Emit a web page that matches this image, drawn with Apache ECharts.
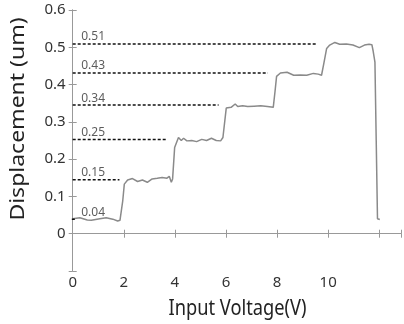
<!DOCTYPE html>
<html>
<head>
<meta charset="utf-8">
<script src="https://cdn.jsdelivr.net/npm/echarts@6/dist/echarts.min.js"></script>
<style>
  html, body { margin: 0; padding: 0; background: #fff; }
  #main { width: 404px; height: 324px; }
</style>
</head>
<body>
<div id="main"></div>
<script>
// measured curve (input voltage -> displacement)
const voltage = [0, 0.28, 0.57, 0.73, 1.06, 1.31, 1.57, 1.76, 1.85, 1.96, 2.02, 2.15, 2.34, 2.54, 2.73, 2.92, 3.11, 3.31, 3.50, 3.69, 3.78, 3.86, 3.91, 3.99, 4.14, 4.25, 4.34, 4.47, 4.66, 4.85, 5.05, 5.24, 5.43, 5.62, 5.79, 5.88, 6.01, 6.07, 6.20, 6.36, 6.46, 6.65, 6.85, 7.10, 7.36, 7.62, 7.85, 7.92, 7.98, 8.13, 8.39, 8.65, 8.91, 9.16, 9.42, 9.61, 9.74, 9.83, 9.94, 10.06, 10.26, 10.45, 10.71, 10.97, 11.22, 11.42, 11.60, 11.71, 11.76, 11.83, 11.88, 11.93, 12.02]
const displacement = [0.040, 0.043, 0.037, 0.036, 0.040, 0.043, 0.039, 0.034, 0.036, 0.089, 0.133, 0.144, 0.148, 0.140, 0.144, 0.138, 0.147, 0.149, 0.151, 0.149, 0.154, 0.138, 0.147, 0.231, 0.258, 0.250, 0.256, 0.249, 0.250, 0.247, 0.253, 0.250, 0.256, 0.250, 0.249, 0.258, 0.337, 0.342, 0.339, 0.348, 0.341, 0.343, 0.341, 0.342, 0.343, 0.341, 0.339, 0.382, 0.422, 0.431, 0.433, 0.425, 0.426, 0.425, 0.430, 0.428, 0.425, 0.457, 0.497, 0.506, 0.513, 0.508, 0.509, 0.506, 0.499, 0.506, 0.508, 0.507, 0.490, 0.460, 0.250, 0.040, 0.038]

// dashed step levels
const levelLabels = ['0.04', '0.15', '0.25', '0.34', '0.43', '0.51']
const levelY = [0.039, 0.145, 0.253, 0.345, 0.431, 0.509]
const levelStart = [-0.23, 0, 0, 0, 0, 0]
const levelEnd = [0.09, 1.83, 3.67, 5.71, 7.64, 9.55]

const xTicks = ['0', '2', '4', '6', '8', '10']

const chart = echarts.init(document.getElementById('main'))

const axisGray = '#999'
const fontFam = 'Noto Sans'

const levelSeries = levelLabels.map((lab, i) => ({
  type: 'line',
  silent: true,
  clip: false,
  symbol: 'none',
  lineStyle: { color: '#111', width: 1.5, type: [3, 2] },
  data: [[levelStart[i], levelY[i]], [levelEnd[i], levelY[i]]]
}))

// text above each dashed level
const levelText = {
  type: 'scatter',
  silent: true,
  symbolSize: 1,
  itemStyle: { color: 'rgba(0,0,0,0)' },
  label: {
    show: true,
    position: 'right',
    distance: 5,
    offset: [3, -7],
    formatter: p => levelLabels[p.dataIndex],
    color: '#333',
    fontSize: 12,
    fontFamily: fontFam
  },
  data: levelY.map(y => [0, y])
}

const option = {
  animation: false,
  grid: { left: 72.7, top: 10, width: 332.8, height: 261, containLabel: false },
  xAxis: [{
    type: 'value',
    min: 0,
    max: 12.85,
    interval: 2,
    axisLine: { lineStyle: { color: axisGray } },
    axisTick: { inside: true, length: 4, lineStyle: { color: axisGray } },
    axisLabel: {
      color: '#333', fontSize: 15, fontFamily: fontFam, margin: 4,
      formatter: v => xTicks.indexOf(String(v)) >= 0 ? String(v) : ''
    },
    splitLine: { show: false }
  }, {
    type: 'value',
    position: 'top',
    min: 0,
    max: 12.85,
    interval: 2,
    axisLine: { show: true, lineStyle: { color: axisGray } },
    axisTick: { inside: true, length: 4, lineStyle: { color: axisGray } },
    axisLabel: { show: false },
    splitLine: { show: false }
  }],
  yAxis: [{
    type: 'value',
    min: -0.1,
    max: 0.6,
    interval: 0.1,
    axisLine: { show: true, lineStyle: { color: axisGray } },
    axisTick: { show: true, inside: true, length: 4, lineStyle: { color: axisGray } },
    axisLabel: {
      color: '#333', fontSize: 15, fontFamily: fontFam, margin: 7,
      formatter: v => v < -0.01 ? '' : (Math.abs(v) < 1e-9 ? '0' : v.toFixed(1))
    },
    splitLine: { show: false }
  }, {
    type: 'value',
    position: 'right',
    min: -0.1,
    max: 0.6,
    interval: 0.1,
    axisLine: { show: true, lineStyle: { color: axisGray } },
    axisTick: { show: true, inside: true, length: 4, lineStyle: { color: axisGray } },
    axisLabel: { show: false },
    splitLine: { show: false }
  }],
  graphic: [{
    type: 'text',
    x: 18,
    y: 119,
    rotation: Math.PI / 2,
    scaleY: 0.9,
    style: {
      text: 'Displacement (um)',
      fill: '#222',
      font: '23px "Noto Sans"',
      textAlign: 'center',
      textVerticalAlign: 'middle'
    }
  }, {
    type: 'text',
    x: 237.5,
    y: 309,
    scaleX: 0.83,
    style: {
      text: 'Input Voltage(V)',
      fill: '#222',
      font: '22px "Noto Sans"',
      textAlign: 'center',
      textVerticalAlign: 'middle'
    }
  }],
  series: [{
    type: 'line',
    symbol: 'none',
    silent: true,
    lineStyle: { color: '#8a8a8a', width: 1.5 },
    data: voltage.map((v, i) => [v, displacement[i]])
  }].concat(levelSeries, [levelText])
}

chart.setOption(option)
</script>
</body>
</html>
